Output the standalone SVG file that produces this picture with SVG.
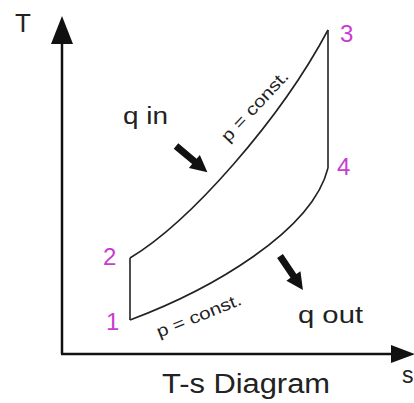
<svg xmlns="http://www.w3.org/2000/svg" width="414" height="403" viewBox="0 0 414 403">
<style>
.ax{stroke:#111;stroke-width:2.5;fill:none}
.cy{stroke:#222;stroke-width:1.6;fill:none}
.lbl{font-family:"Liberation Sans",Arial,sans-serif;fill:#222}
.num{font-family:"Liberation Sans",Arial,sans-serif;fill:#c83cd2;font-size:24px}
.blk{fill:#111}
</style>
<defs>
<polygon id="fat" points="0,-3.5 24,-3.5 24,-8.5 41,0 24,8.5 24,3.5 0,3.5"/>
</defs>
<rect width="414" height="403" fill="#fff"/>
<g id="axes">
<line class="ax" x1="62" y1="40" x2="62" y2="354"/>
<line class="ax" x1="61" y1="354" x2="395" y2="354"/>
<polygon class="blk" points="62,16 51,44 73,44"/>
<polygon class="blk" points="391,345 391,363 415,354"/>
<text class="lbl" x="15" y="32" font-size="26">T</text>
<text class="lbl" x="402" y="383" font-size="23">s</text>
</g>
<g id="connectors">
<path id="c23" class="cy" d="M130,258 C190,222 280,120 328,30"/>
<path id="c34" class="cy" d="M328,30 L328,168"/>
<path id="c14" class="cy" d="M130,320 C210,290 312,232 328,168"/>
<path id="c12" class="cy" d="M130,258 L130,320"/>
</g>
<g id="n1"><text class="num" x="106" y="330">1</text></g>
<g id="n2"><text class="num" x="103" y="265">2</text></g>
<g id="n3"><text class="num" x="340" y="42">3</text></g>
<g id="n4"><text class="num" x="337" y="175">4</text></g>
<g id="label-p-upper"><text class="lbl" font-size="17" text-anchor="middle" textLength="90" lengthAdjust="spacingAndGlyphs" transform="translate(259,110) rotate(-47)">p = const.</text></g>
<g id="label-p-lower"><text class="lbl" font-size="17" text-anchor="middle" textLength="90" lengthAdjust="spacingAndGlyphs" transform="translate(201,321) rotate(-22)">p = const.</text></g>
<g id="qin">
<text class="lbl" x="123" y="124" font-size="23" textLength="45" lengthAdjust="spacingAndGlyphs">q in</text>
<use href="#fat" class="blk" transform="translate(176,146) rotate(40)"/>
</g>
<g id="qout">
<text class="lbl" x="298" y="323" font-size="23" textLength="65" lengthAdjust="spacingAndGlyphs">q out</text>
<use href="#fat" class="blk" transform="translate(280,256) rotate(56)"/>
</g>
<g id="title"><text class="lbl" x="162" y="393" font-size="27" textLength="168" lengthAdjust="spacingAndGlyphs">T-s Diagram</text></g>
</svg>
